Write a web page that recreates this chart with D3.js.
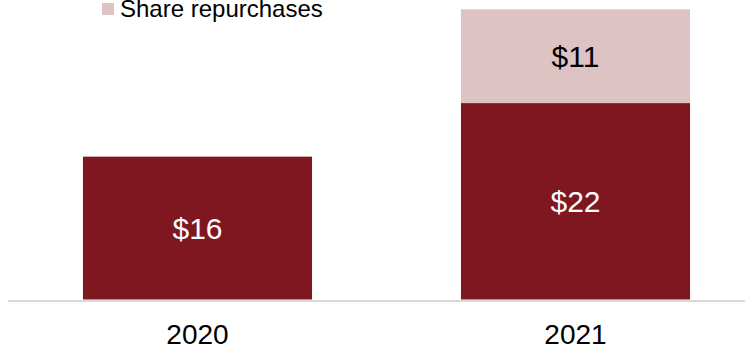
<!DOCTYPE html>
<html lang="en">
<head>
    <meta charset="UTF-8">
    <title>Capital returned</title>
    <script src="https://d3js.org/d3.v7.min.js"></script>
    <style>
        body { margin: 0; background: #fff; }
        svg { display: block; font-family: "Liberation Sans", Arial, sans-serif; }
        .bar-label { font-size: 30px; text-anchor: middle; }
        .year-label { font-size: 28px; text-anchor: middle; fill: #000; }
        .legend-text { font-size: 24px; fill: #000; }
    </style>
</head>
<body>
    <svg width="745" height="349"></svg>
    <script>
        const years = ["2020", "2021"];
        const baseValues = [16, 22];
        const buybackValues = [0, 10.5];
        const baseLabels = ["$16", "$22"];
        const buybackLabels = ["", "$11"];
        const legendItems = ["Share repurchases"];

        const darkRed = "#7f1720";
        const pink = "#dec3c5";

        const svg = d3.select("svg");
        const baseline = 299.5;

        const x = d3.scaleBand()
            .domain(years)
            .range([8.5, 764.5])
            .paddingInner(0.394)
            .paddingOuter(0.197);

        const y = d3.scaleLinear()
            .domain([0, 33.5])
            .range([baseline, 0.4]);

        const rows = years.map((yr, i) => ({
            year: yr,
            base: baseValues[i],
            buyback: buybackValues[i],
            baseLabel: baseLabels[i],
            buybackLabel: buybackLabels[i]
        }));

        // bottom segment
        svg.selectAll(".base")
            .data(rows)
            .enter()
            .append("rect")
            .attr("class", "base")
            .attr("x", d => x(d.year))
            .attr("y", d => y(d.base))
            .attr("width", x.bandwidth())
            .attr("height", d => y(0) - y(d.base))
            .attr("fill", darkRed);

        // top segment
        svg.selectAll(".buyback")
            .data(rows.filter(d => d.buyback > 0))
            .enter()
            .append("rect")
            .attr("class", "buyback")
            .attr("x", d => x(d.year))
            .attr("y", d => y(d.base + d.buyback))
            .attr("width", x.bandwidth())
            .attr("height", d => y(d.base) - y(d.base + d.buyback))
            .attr("fill", pink);

        svg.selectAll(".base-label")
            .data(rows)
            .enter()
            .append("text")
            .attr("class", "bar-label")
            .attr("x", d => x(d.year) + x.bandwidth() / 2)
            .attr("y", d => (y(0) + y(d.base)) / 2 + 11)
            .attr("fill", "#fff")
            .text(d => d.baseLabel);

        svg.selectAll(".buyback-label")
            .data(rows.filter(d => d.buyback > 0))
            .enter()
            .append("text")
            .attr("class", "bar-label")
            .attr("x", d => x(d.year) + x.bandwidth() / 2)
            .attr("y", d => (y(d.base) + y(d.base + d.buyback)) / 2 + 11)
            .attr("fill", "#000")
            .text(d => d.buybackLabel);

        // axis line
        const xAxis = svg.append("g")
            .attr("transform", `translate(0,${baseline + 1.5})`)
            .call(d3.axisBottom(x).tickSize(0).tickPadding(0).tickFormat(""));
        xAxis.select(".domain")
            .attr("d", "M8,0H745")
            .attr("stroke", "#d9d9d9")
            .attr("stroke-width", 2);

        svg.selectAll(".year-label")
            .data(years)
            .enter()
            .append("text")
            .attr("class", "year-label")
            .attr("x", d => x(d) + x.bandwidth() / 2)
            .attr("y", 344)
            .text(d => d);

        // legend
        const legend = svg.selectAll(".legend")
            .data(legendItems)
            .enter()
            .append("g")
            .attr("class", "legend")
            .attr("transform", (d, i) => `translate(102,${3 - i * 24})`);
        legend.append("rect")
            .attr("width", 12)
            .attr("height", 12)
            .attr("fill", pink);
        legend.append("text")
            .attr("class", "legend-text")
            .attr("x", 18)
            .attr("y", 14)
            .text(d => d);
    </script>
</body>
</html>
